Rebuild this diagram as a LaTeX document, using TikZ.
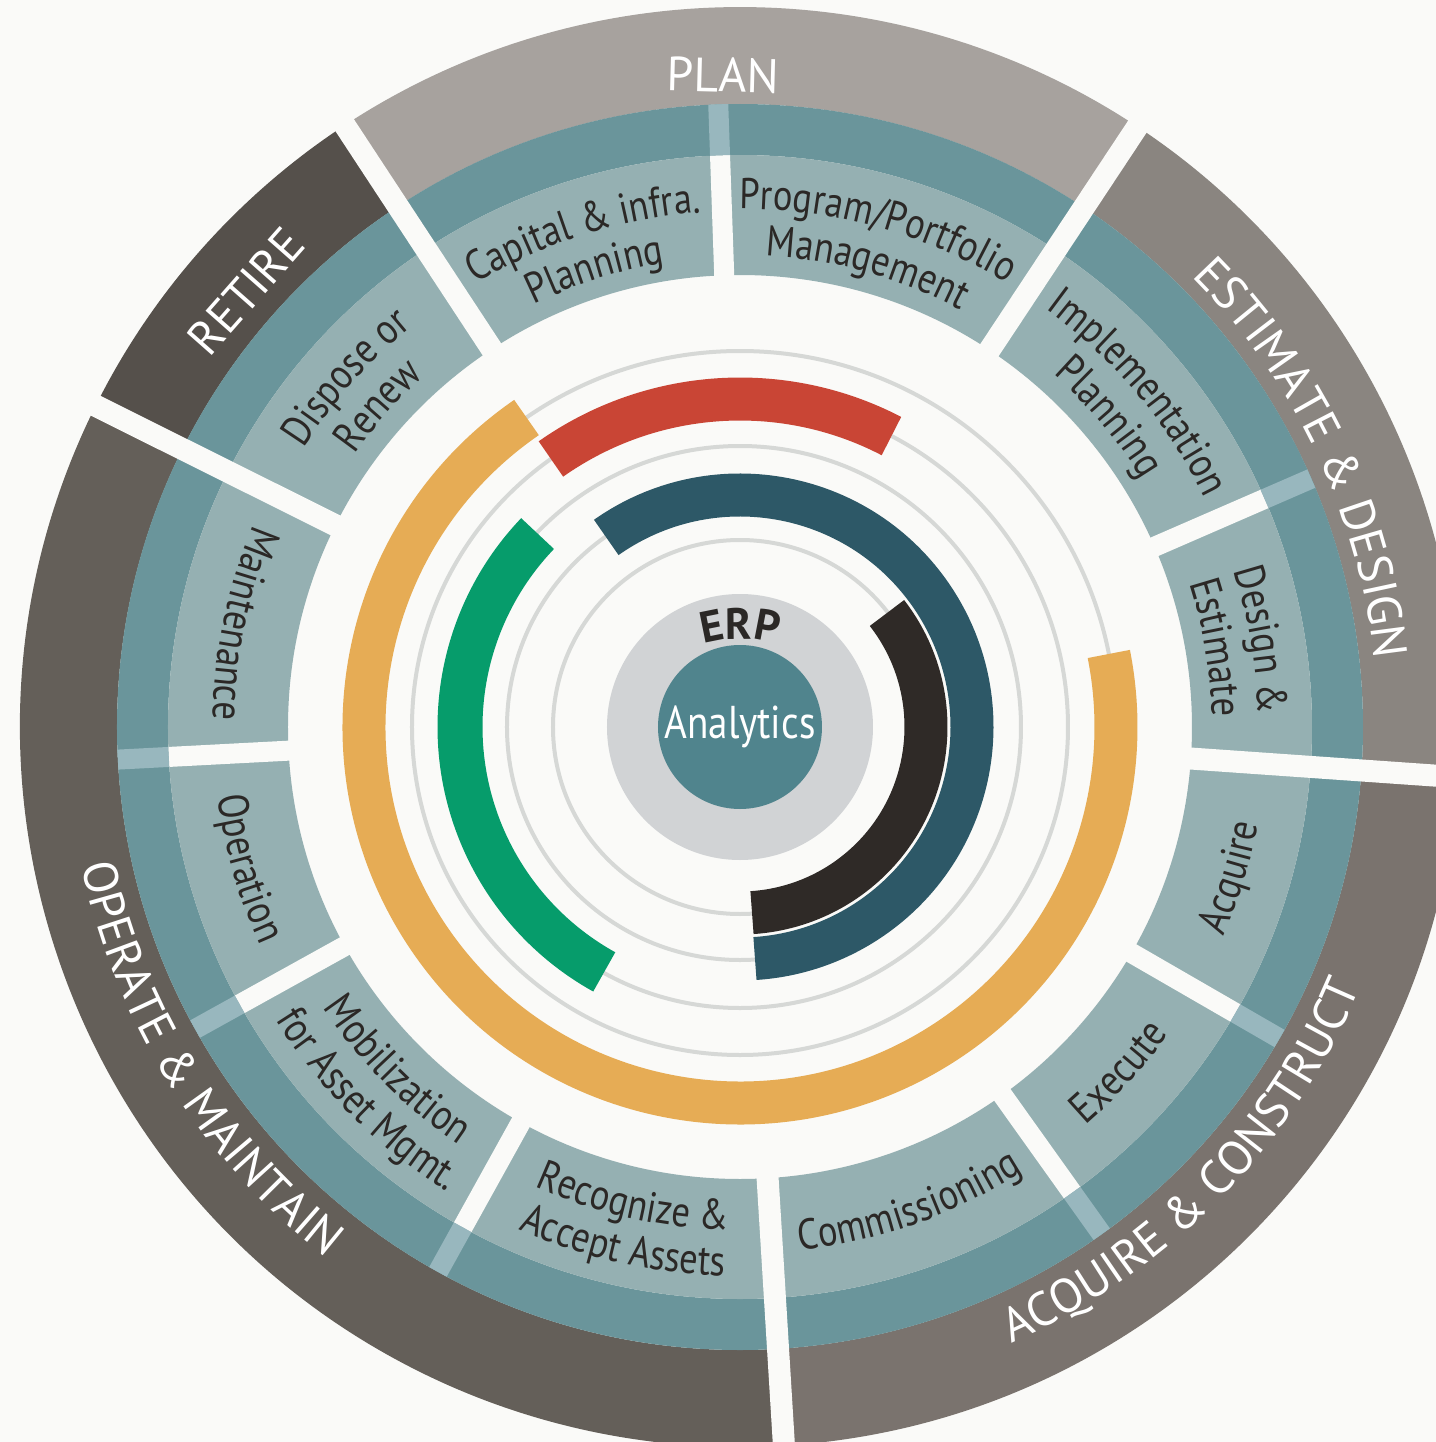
\documentclass[tikz,border=0pt]{standalone}
\usepackage{fontspec}
\newfontfamily\cellfont[FakeStretch=0.85]{PT Sans}
\newfontfamily\phasefont{PT Sans}
\usetikzlibrary{decorations.text}

\definecolor{bgwhite}{RGB}{250,250,248}
\definecolor{plangray}{RGB}{167,162,158}
\definecolor{retiregray}{RGB}{85,80,75}
\definecolor{operategray}{RGB}{100,95,89}
\definecolor{acquiregray}{RGB}{122,115,110}
\definecolor{estimategray}{RGB}{138,133,128}
\definecolor{bandteal}{RGB}{106,149,155}
\definecolor{cellteal}{RGB}{149,176,178}
\definecolor{stripeteal}{RGB}{152,183,190}
\definecolor{coreteal}{RGB}{80,132,141}
\definecolor{erpgray}{RGB}{209,211,213}
\definecolor{trackgray}{RGB}{214,216,214}
\definecolor{arcblack}{RGB}{47,42,39}
\definecolor{arcteal}{RGB}{45,88,103}
\definecolor{arcgreen}{RGB}{6,156,107}
\definecolor{arcred}{RGB}{201,69,53}
\definecolor{arcorange}{RGB}{230,172,85}
\definecolor{labeltext}{RGB}{43,40,38}

\tikzset{every picture/.style={line width=0.5pt}}
\tikzset{
  track/.style={draw=trackgray, line width=2pt},
  module/.style={line width=21.5pt},
  phasegap/.style={draw=bgwhite, line width=11pt},
  cellgap/.style={draw=bgwhite, line width=10pt},
  bandgap/.style={draw=stripeteal, line width=10pt},
  phaselabel/.style={text=white, inner sep=0pt, font=\phasefont\fontsize{24}{28}\selectfont},
}

\newcommand{\celltext}{\color{labeltext}\cellfont\fontsize{21.5}{25}\selectfont}
\newcommand{\phasetext}{\color{white}\phasefont\fontsize{24}{28}\selectfont}

% colour, from, to, inner radius, outer radius
\newcommand{\ringpart}[5]{%
  \fill[#1] (#2:#5) arc[start angle=#2, end angle=#3, radius=#5]
    -- (#3:#4) arc[start angle=#3, end angle=#2, radius=#4] -- cycle;}

% centre angle, baseline radius, format, text (letters facing out)
\newcommand{\cwtext}[4]{%
  \path[decorate, decoration={text along path, text align=center, text={|#3|#4}}]
    ({#1+70}:#2) arc[start angle={#1+70}, end angle={#1-70}, radius=#2];}
% same, letters facing the centre
\newcommand{\ccwtext}[4]{%
  \path[decorate, decoration={text along path, text align=center, text={|#3|#4}}]
    ({#1-70}:#2) arc[start angle={#1-70}, end angle={#1+70}, radius=#2];}

\begin{document}
\begin{tikzpicture}[x=0.5pt,y=0.5pt]
\useasboundingbox (-740,-715) rectangle (696,727);
\fill[bgwhite] (-740,-715) rectangle (696,727);

%Shape: phase bands
\ringpart{plangray}{56.5}{123.3}{623}{720}
\ringpart{retiregray}{123.3}{153.5}{623}{720}
\ringpart{operategray}{153.5}{273.5}{623}{720}
\ringpart{acquiregray}{273.5}{356}{623}{720}
\ringpart{estimategray}{-4}{56.5}{623}{720}

%Shape: step rings
\fill[bandteal, even odd rule] (0,0) circle[radius=623] (0,0) circle[radius=572];
\fill[cellteal, even odd rule] (0,0) circle[radius=572] (0,0) circle[radius=452];

%Straight Lines: gaps between steps
\foreach \a in {92,23.5,-30,-54.5,183,209,241}{
  \draw[cellgap] (\a:440) -- (\a:572);
  \draw[bandgap] (\a:572) -- (\a:623);
}
%Straight Lines: gaps between phases
\foreach \a in {56.5,123.3,153.5,273.5,-4}
  \draw[phasegap] (\a:440) -- (\a:790);

%Shape: tracks
\foreach \r in {187,233,281,328,376}
  \draw[track] (0,0) circle[radius=\r];

%Curve Lines: modules
\draw[module, arcorange] (124.6:376) arc[start angle=124.6, end angle=371.2, radius=376];
\draw[module, arcred] (62.5:328) arc[start angle=62.5, end angle=125.2, radius=328];
\draw[module, arcgreen, line width=22.5pt] (136.3:280) arc[start angle=136.3, end angle=241, radius=280];
\draw[module, arcteal] (125.2:232) arc[start angle=125.2, end angle=-86.3, radius=232];
\draw[module, arcblack] (37.8:186) arc[start angle=37.8, end angle=-86.3, radius=186];

%Shape: core
\node[circle, fill=erpgray, minimum size=133pt, inner sep=0pt] (erp) at (0,0) {};
\node[circle, fill=coreteal, minimum size=82pt, inner sep=0pt, text=white,
  font=\cellfont\fontsize{23}{27}\selectfont] (analytics) at (0,0) {Analytics};
\path[decorate, decoration={text along path, text align=center,
    text={|\color{labeltext}\phasefont\bfseries\fontsize{22}{26}\selectfont|ERP}}]
  ({130*cos(160)},{-42+130*sin(160)}) arc[start angle=160, end angle=20, radius=130];

% Text Node: phases
\node[phaselabel, rotate=-1.5] (plan) at (91.5:652) {PLAN};
\node[phaselabel, rotate=48.6] (retire) at (138.6:659) {RETIRE};
\cwtext{25.5}{638}{\phasetext}{ESTIMATE {\&} DESIGN}
\ccwtext{-44.5}{673}{\phasetext}{ACQUIRE {\&} CONSTRUCT}
\ccwtext{212}{673}{\phasetext}{OPERATE {\&} MAINTAIN}

% Text Node: steps
\cwtext{107.6}{516}{\celltext}{Capital {\&} infra.}
\cwtext{107.6}{470}{\celltext}{Planning}
\cwtext{74.5}{518}{\celltext}{Program/Portfolio}
\cwtext{74.5}{472}{\celltext}{Management}
\cwtext{40}{518}{\celltext}{Implementation}
\cwtext{40}{472}{\celltext}{Planning}
\cwtext{9.5}{518}{\celltext}{Design {\&}}
\cwtext{9.5}{472}{\celltext}{Estimate}
\cwtext{138.4}{518}{\celltext}{Dispose or}
\cwtext{138.4}{472}{\celltext}{Renew}
\ccwtext{-17}{527}{\celltext}{Acquire}
\ccwtext{-42.3}{527}{\celltext}{Execute}
\ccwtext{-70.5}{527}{\celltext}{Commissioning}
\ccwtext{257.3}{503}{\celltext}{Recognize {\&}}
\ccwtext{257.3}{549}{\celltext}{Accept Assets}
\ccwtext{225}{503}{\celltext}{Mobilization}
\ccwtext{225}{549}{\celltext}{for Asset Mgmt.}
\ccwtext{196}{527}{\celltext}{Operation}
\ccwtext{168.3}{527}{\celltext}{Maintenance}
\end{tikzpicture}
\end{document}
